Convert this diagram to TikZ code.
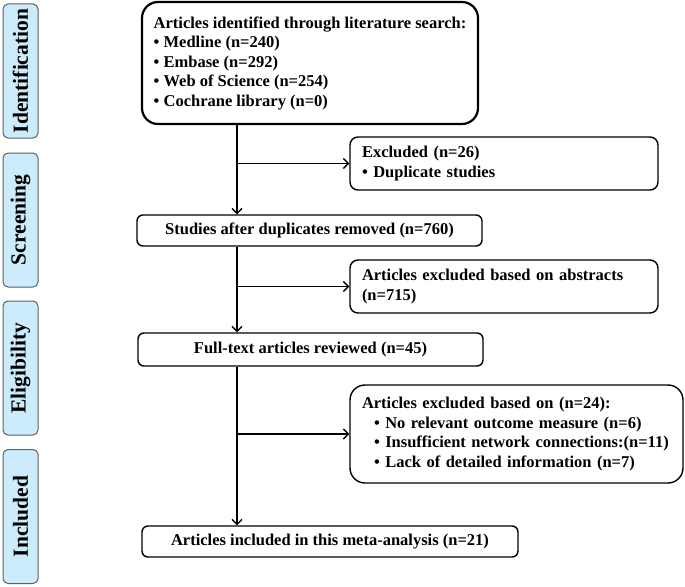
\documentclass[tikz,border=0pt]{standalone}
\usepackage{fontspec}
\setmainfont{Liberation Serif}
\usetikzlibrary{arrows.meta, positioning}
\definecolor{stageFill}{RGB}{204,236,252}
\definecolor{stageBorder}{RGB}{95,95,95}

\begin{document}
\begin{tikzpicture}[x=1pt, y=-1pt, >={Straight Barb[length=5pt, width=10pt]}, line width=1.4pt,
    font=\bfseries\fontsize{16.5}{19.5}\selectfont]
        % Styles for the stages, the boxes and the exclusion boxes
        \tikzstyle{stage} = [draw=stageBorder, fill=stageFill, rounded corners=5pt, line width=1pt, rotate=90, minimum width=134pt, minimum height=35pt, inner sep=0pt, font=\bfseries\fontsize{21.5}{22}\selectfont]
        \tikzstyle{block} = [draw, rounded corners=6pt, minimum height=31pt, align=center, inner sep=0pt]
        \tikzstyle{excluded} = [draw, rounded corners=8pt, align=left, inner xsep=12pt, inner ysep=0pt]

        \useasboundingbox (0,0) rectangle (685,586);

        % Stages
        \node [stage] (identification) at (20.5,71) {Identification};
        \node [stage] (screening) at (20.5,220) {Screening};
        \node [stage] (eligibility) at (20.5,368) {Eligibility};
        \node [stage] (includedStage) at (20.5,516.5) {Included};

        % Nodes
        \node [draw, line width=2.2pt, rounded corners=16pt, minimum width=336pt, minimum height=122pt, align=left] (search) at (310,63)
            {Articles identified through literature search:\\ • Medline (n=240)\\ • Embase (n=292)\\ • Web of Science (n=254)\\ • Cochrane library (n=0)};
        \node [block, minimum width=345pt] (studies) at (309.5,230.5) {Studies after duplicates removed (n=760)};
        \node [block, minimum width=345pt, minimum height=33pt] (fullText) at (310.5,349.5) {Full-text articles reviewed (n=45)};
        \node [block, minimum width=376pt] (included) at (330,541.5) {Articles included in this meta-analysis (n=21)};
        \node [excluded, text width=284pt, minimum height=53pt] (excluded1) at (504,163.5) {Excluded (n=26)\\ • Duplicate studies};
        \node [excluded, text width=284pt, minimum height=53pt] (excluded2) at (504,286.5) {Articles excluded based on abstracts\\ (n=715)};
        \node [excluded, text width=309pt, minimum height=98pt, rounded corners=15pt] (excluded3) at (516.5,434)
            {Articles excluded based on (n=24):\\ \hspace*{12pt}• No relevant outcome measure (n=6)\\ \hspace*{12pt}• Insufficient network connections:(n=11)\\ \hspace*{12pt}• Lack of detailed information (n=7)};
        \coordinate (spine) at (237,0);

        % Lines
        \draw [->] (search.south -| spine) -- (studies.north -| spine);
        \draw [->] (studies.south -| spine) -- (fullText.north -| spine);
        \draw [->] (fullText.south -| spine) -- (included.north -| spine);
        \draw [->] (spine |- excluded1.west) -- (excluded1.west);
        \draw [->] (spine |- excluded2.west) -- (excluded2.west);
        \draw [->] (spine |- excluded3.west) -- (excluded3.west);

\end{tikzpicture}
\end{document}
